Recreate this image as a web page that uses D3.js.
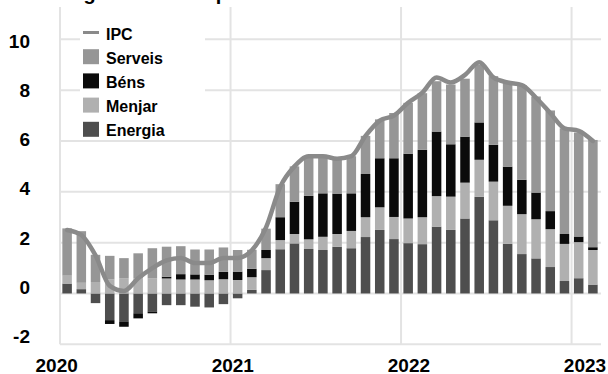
<!DOCTYPE html>
<html><head><meta charset="utf-8">
<script src="https://cdn.jsdelivr.net/npm/d3@7"></script>
<style>
body{margin:0;background:#fff}
svg{display:block}
text{font-family:"Liberation Sans",Arial,sans-serif;font-weight:bold;fill:#000}
</style>
</head><body>
<svg id="chart" width="608" height="374"></svg>
<script>
const months = ["2020-01","2020-02","2020-03","2020-04","2020-05","2020-06","2020-07","2020-08","2020-09","2020-10","2020-11","2020-12",
"2021-01","2021-02","2021-03","2021-04","2021-05","2021-06","2021-07","2021-08","2021-09","2021-10","2021-11","2021-12",
"2022-01","2022-02","2022-03","2022-04","2022-05","2022-06","2022-07","2022-08","2022-09","2022-10","2022-11","2022-12",
"2023-01","2023-02"];
const ipc = [2.5,2.3,1.5,0.3,0.1,0.6,1.0,1.3,1.4,1.2,1.2,1.4,1.4,1.7,2.6,4.2,5.0,5.4,5.4,5.3,5.4,6.2,6.8,7.0,7.5,7.9,8.5,8.3,8.6,9.1,8.5,8.3,8.2,7.7,7.1,6.5,6.4,6.0];
const energia = [0.39,0.17,-0.38,-1.05,-1.10,-0.78,-0.71,-0.46,-0.46,-0.52,-0.55,-0.42,-0.19,0.14,0.92,1.74,1.97,1.75,1.71,1.84,1.78,2.22,2.50,2.14,1.98,1.94,2.63,2.50,2.95,3.80,2.88,1.95,1.55,1.38,1.04,0.49,0.60,0.35];
const menjar = [0.31,0.25,0.45,0.55,0.60,0.60,0.60,0.59,0.55,0.55,0.52,0.56,0.53,0.50,0.47,0.36,0.37,0.38,0.52,0.50,0.68,0.78,0.89,0.87,0.97,1.06,1.20,1.31,1.41,1.46,1.52,1.50,1.57,1.54,1.49,1.46,1.42,1.36];
const bens = [0,0,0,-0.15,-0.21,-0.20,-0.07,0.07,0.21,0.20,0.22,0.29,0.33,0.33,0.32,0.90,1.27,1.71,1.71,1.59,1.48,1.70,1.93,2.31,2.55,2.65,2.54,2.06,1.81,1.47,1.45,1.54,1.35,1.05,0.71,0.39,0.22,0.11];
const serveis = [1.86,2.03,1.07,0.93,0.79,0.98,1.18,1.18,1.10,0.98,0.99,0.96,0.85,0.75,0.84,1.30,1.39,1.56,1.46,1.37,1.46,1.50,1.53,1.78,2.00,2.23,1.98,2.35,2.28,2.27,2.70,3.35,3.73,3.78,3.96,4.16,4.09,4.22];
const yTicks = [-2,0,2,4,6,8,10];
const years = [2020,2021,2022,2023];
const seriesKeys = ["Energia","Menjar","Béns","Serveis"];
const legendItems = ["IPC","Serveis","Béns","Menjar","Energia"];
const titleText = "Inflació general i les aportacions";

const colors = {"Energia":"#4e4e4e","Menjar":"#b0b0b0","Béns":"#0b0b0b","Serveis":"#969696","IPC":"#8a8a8a"};

const rows = months.map((m,i)=>({month:m,"Energia":energia[i],"Menjar":menjar[i],"Béns":bens[i],"Serveis":serveis[i],ipc:ipc[i]}));

const svg = d3.select("#chart");
const x = d3.scaleBand().domain(months).range([60,600]).paddingInner(0.33).paddingOuter(0.165);
const xYear = d3.scaleLinear().domain([0, months.length]).range([60,600]);
const xLab = d3.scaleLinear().domain([2020,2023]).range([56.7,585]);
const y = d3.scaleLinear().domain([-2,10]).range([344.3,39.3]);
const yLab = d3.scaleLinear().domain([-2,10]).range([336.5,41]);

// title (clipped at top)
svg.append("text").attr("x",8).attr("y",0).attr("font-size",20).text(titleText);

// grid
const grid = svg.append("g").attr("stroke","#e3e3e3").attr("stroke-width",2);
grid.selectAll("line.h").data(yTicks).join("line").attr("class","h")
  .attr("x1",60).attr("x2",601).attr("y1",d=>y(d)).attr("y2",d=>y(d));
grid.selectAll("line.v").data(years).join("line").attr("class","v")
  .attr("x1",d=>xYear((d-2020)*12)).attr("x2",d=>xYear((d-2020)*12))
  .attr("y1",7).attr("y2",y(-2));

// y labels
svg.append("g").selectAll("text").data(yTicks).join("text")
  .attr("x",30).attr("y",d=>yLab(d)).attr("text-anchor","end")
  .attr("dominant-baseline","central").attr("font-size",19).text(d=>d);
// x labels
svg.append("g").selectAll("text").data(years).join("text")
  .attr("x",d=>xLab(d)).attr("y",365).attr("text-anchor","middle")
  .attr("dominant-baseline","central").attr("font-size",19).text(d=>d);

// legend
const lg = svg.append("g");
lg.append("rect").attr("x",80).attr("y",24).attr("width",125).attr("height",114).attr("fill","#fff");
legendItems.forEach((k,i)=>{
  const by = 39.5 + i*24.2;
  if(k==="IPC"){
    lg.append("line").attr("x1",83).attr("x2",99).attr("y1",by-7).attr("y2",by-7)
      .attr("stroke",colors.IPC).attr("stroke-width",3);
  } else {
    lg.append("rect").attr("x",83).attr("y",by-14.5).attr("width",16).attr("height",15).attr("fill",colors[k]);
  }
  lg.append("text").attr("x",106).attr("y",by).attr("font-size",16).text(k);
});

// bars
const stack = d3.stack().keys(seriesKeys).offset(d3.stackOffsetDiverging);
const layers = stack(rows);
svg.append("g").selectAll("g").data(layers).join("g").attr("fill",d=>colors[d.key])
  .selectAll("rect").data(d=>d).join("rect")
  .attr("x",d=>x(d.data.month)).attr("width",x.bandwidth())
  .attr("y",d=>y(Math.max(d[0],d[1]))).attr("height",d=>Math.abs(y(d[0])-y(d[1])));

// line
const line = d3.line().x(d=>x(d.month)+x.bandwidth()/2).y(d=>y(d.ipc)).curve(d3.curveMonotoneX);
svg.append("path").datum(rows).attr("d",line).attr("fill","none")
  .attr("stroke",colors.IPC).attr("stroke-width",4.5).attr("stroke-linejoin","round").attr("stroke-linecap","round");
</script>
</body></html>
